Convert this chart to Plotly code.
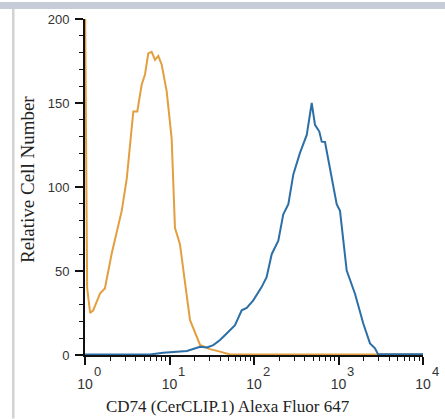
import math
import plotly.graph_objects as go

# ---- data (fluorescence intensity, relative cell number) ----
orange_x = [1.0, 1.03, 1.06, 1.15, 1.25, 1.51, 1.72, 2.07, 2.72, 3.12, 3.57, 3.73, 4.16, 4.69, 5.13,
            5.61, 6.15, 6.74, 7.37, 8.09, 9.27, 10.6, 11.6, 13.3, 15.3, 17.5, 23.0, 30.0, 39.6,
            52.0, 10000]
orange_y = [215, 120, 40, 25, 26.6, 36.7, 39.6, 60.4, 85.8, 105, 133, 145, 145, 161, 167,
            179.5, 180.5, 175.7, 178, 172.8, 156.8, 129, 75.7, 66, 42.6, 20.7, 6, 3.5, 2,
            0.3, 0.3]

blue_x = [1.0, 5.9, 8.4, 16.1, 23.0, 27.8, 33.0, 39.6, 47.5, 59.6, 71.5, 82, 98, 123, 141,
          162, 194, 222, 255, 292, 350, 421, 482, 527, 593, 633, 692, 793, 952, 1042, 1250,
          1567, 1964, 2359, 2704, 2933, 10000]
blue_y = [0.3, 0.3, 1.3, 2.4, 4.9, 4.5, 5.9, 8.9, 12.8, 17.8, 26.6, 28, 32.5, 40.4, 46.3,
          60, 68, 83.8, 89.8, 107.5, 120.3, 131, 150, 137, 133, 127, 126.8, 111.4, 89.8,
          85.8, 50.3, 36.5, 18.7, 6.9, 4, 0.5, 0.5]

x_tick_vals = [1, 10, 100, 1000, 10000]
x_tick_base = ["10", "10", "10", "10", "10"]
x_tick_exps = ["0", "1", "2", "3", "4"]
x_minor_vals = [m * d for d in [1, 10, 100, 1000] for m in range(2, 10)]
y_tick_vals = [0, 50, 100, 150, 200]
y_minor_vals = [v for v in range(10, 200, 10) if v % 50 != 0]

x_title = "CD74 (CerCLIP.1) Alexa Fluor 647"
y_title = "Relative Cell Number"

ORANGE = "#E39E3F"
BLUE = "#2C6FA6"

fig = go.Figure()
fig.add_trace(go.Scatter(x=orange_x, y=orange_y, mode="lines",
                         line=dict(color=ORANGE, width=2), showlegend=False))
fig.add_trace(go.Scatter(x=blue_x, y=blue_y, mode="lines",
                         line=dict(color=BLUE, width=2), showlegend=False))

W, H = 445, 419
L, R, T, B = 85, 22, 17, 64
pw, ph = W - L - R, H - T - B


def px(xp):
    return (xp - L) / pw


def py(yp):
    return (H - B - yp) / ph


annotations = [
    dict(text=x_title, xref="paper", yref="paper", x=px(228), y=py(407),
         xanchor="center", yanchor="middle", showarrow=False,
         font=dict(family="Liberation Serif, Times New Roman", size=17, color="#222")),
    dict(text=y_title, xref="paper", yref="paper", x=px(27), y=py(179),
         xanchor="center", yanchor="middle", showarrow=False, textangle=-90,
         font=dict(family="Liberation Serif, Times New Roman", size=19, color="#222")),
]
for v, e in zip(x_tick_vals, x_tick_exps):
    annotations.append(dict(text=e, xref="x", yref="paper", x=math.log10(v), y=py(372),
                            xshift=12, xanchor="center", yanchor="middle", showarrow=False,
                            font=dict(family="Liberation Sans, Arial", size=13, color="#333")))

fig.update_layout(
    width=W, height=H,
    margin=dict(l=L, r=R, t=T, b=B),
    paper_bgcolor="white", plot_bgcolor="white",
    showlegend=False,
    xaxis=dict(type="log", range=[0, 4], tickmode="array", tickvals=x_tick_vals,
               ticktext=x_tick_base, ticks="outside", ticklen=8, tickwidth=1.5,
               tickcolor="#111", showline=True, linecolor="#111", linewidth=2,
               showgrid=False, zeroline=False, ticklabelstandoff=7,
               tickfont=dict(family="Liberation Sans, Arial", size=14, color="#333"),
               minor=dict(tickmode="array", tickvals=x_minor_vals, ticks="outside",
                          ticklen=4, tickwidth=1.2, tickcolor="#111", showgrid=False)),
    yaxis=dict(range=[0, 200], tickmode="array", tickvals=y_tick_vals,
               ticks="outside", ticklen=8, tickwidth=1.5, tickcolor="#111",
               showline=True, linecolor="#111", linewidth=2,
               showgrid=False, zeroline=False, ticklabelstandoff=3,
               tickfont=dict(family="Liberation Sans, Arial", size=13, color="#333"),
               minor=dict(tickmode="array", tickvals=y_minor_vals, ticks="outside",
                          ticklen=4, tickwidth=1.2, tickcolor="#111", showgrid=False)),
    annotations=annotations,
    shapes=[
        dict(type="rect", xref="paper", yref="paper", x0=px(0), x1=px(W), y0=py(7), y1=py(0),
             fillcolor="#c6cdd9", line=dict(width=0), layer="above"),
        dict(type="rect", xref="paper", yref="paper", x0=px(12), x1=px(14.5), y0=py(H), y1=py(7),
             fillcolor="#d2d2d2", line=dict(width=0), layer="above"),
    ],
)

fig.write_html("out.html", config={"displayModeBar": False},
               post_script="document.body.style.margin='0';document.body.style.overflow='hidden';")
